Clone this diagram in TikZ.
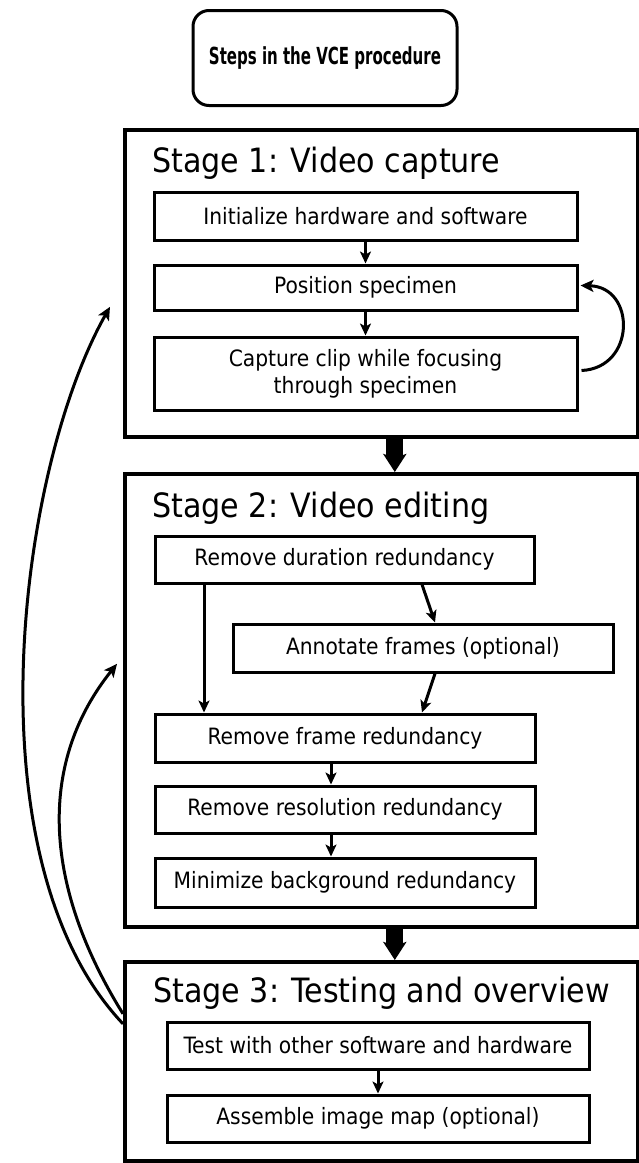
\documentclass[tikz,border=0pt]{standalone}
\usepackage{fontspec}
\setmainfont{DejaVu Sans Condensed}
\usetikzlibrary{arrows.meta}
\begin{document}
\begin{tikzpicture}[x=1pt,y=-1pt,
  headbox/.style={draw, line width=3pt, rounded corners=16pt, inner sep=0pt,
    minimum width=264pt, minimum height=95pt,
    font=\fontsize{23.5}{28}\selectfont\bfseries},
  stagebox/.style={draw, line width=3.6pt, anchor=north west, inner sep=0pt, minimum width=513pt},
  stagetitle/.style={anchor=base west, inner sep=0pt, font=\fontsize{33.5}{40}\selectfont},
  stepbox/.style={draw, line width=3pt, inner sep=0pt, align=center,
    font=\fontsize{22.5}{27}\selectfont},
  link/.style={line width=3pt, -{Stealth[length=12pt,width=11pt,inset=3pt]}},
  backlink/.style={line width=3pt, -{Stealth[length=13pt,width=12pt,inset=3pt]}},
  bigarrow/.style={line width=17pt, -{Stealth[length=18pt,width=23pt,inset=4pt]}},
]
\useasboundingbox[fill=white] (0,0) rectangle (638,1163);

% heading
\node[headbox] (head) at (325,58) {\scalebox{0.71}[1]{Steps in the VCE procedure}};

% stage frames
\node[stagebox, minimum height=307pt] (s1) at (123,128) {};
\node[stagebox, minimum height=453pt] (s2) at (123,472) {};
\node[stagebox, minimum height=199pt] (s3) at (123,960) {};

\node[stagetitle] (t1) at (152,172) {Stage 1: Video capture};
\node[stagetitle] (t2) at (152,517) {Stage 2: Video editing};
\node[stagetitle] (t3) at (153,1002) {Stage 3: Testing and overview};

% stage 1 steps
\node[stepbox, minimum width=423pt, minimum height=48pt] (init) at (365.5,216) {Initialize hardware and software};
\node[stepbox, minimum width=423pt, minimum height=45pt] (pos) at (365.5,287.5) {Position specimen};
\node[stepbox, minimum width=423pt, minimum height=73pt] (cap) at (365.5,373.5) {Capture clip while focusing\\through specimen};

% stage 2 steps
\node[stepbox, minimum width=379pt, minimum height=47pt] (dur) at (344.5,559.5) {Remove duration redundancy};
\node[stepbox, minimum width=380pt, minimum height=48pt] (ann) at (423,648) {Annotate frames (optional)};
\node[stepbox, minimum width=380pt, minimum height=48pt] (frame) at (345,738) {Remove frame redundancy};
\node[stepbox, minimum width=380pt, minimum height=47pt] (res) at (345,809.5) {Remove resolution redundancy};
\node[stepbox, minimum width=380pt, minimum height=49pt] (mini) at (345,882.5) {Minimize background redundancy};

% stage 3 steps
\node[stepbox, minimum width=422pt, minimum height=47pt] (test) at (378,1045.5) {Test with other software and hardware};
\node[stepbox, minimum width=422pt, minimum height=47pt] (asm) at (378,1118.5) {Assemble image map (optional)};

% flow inside stage 1
\draw[link] (init.south) -- (pos.north);
\draw[link] (pos.south) -- (cap.north);
\draw[backlink] ([shift={(3,-3)}]cap.east) .. controls (636,368) and (636,287) .. ([shift={(2,-2)}]pos.east);

% flow inside stage 2
\draw[link] ([xshift=77.5pt]dur.south) -- ([xshift=12pt]ann.north);
\draw[link] ([xshift=12pt]ann.south) -- ([xshift=77pt]frame.north);
\draw[link] ([xshift=-140.5pt]dur.south) -- ([xshift=-141pt]frame.north);
\draw[link] ([xshift=-14pt]frame.south) -- ([xshift=-14pt]res.north);
\draw[link] ([xshift=-14pt]res.south) -- ([xshift=-14pt]mini.north);

% flow inside stage 3
\draw[link] (test.south) -- (asm.north);

% transitions between stages
\draw[bigarrow] ([xshift=13.5pt]s1.south) -- ([xshift=13.5pt]s2.north);
\draw[bigarrow] ([xshift=13.5pt]s2.south) -- ([xshift=13.5pt]s3.north);

% feedback from testing back to earlier stages
\draw[backlink] ([shift={(0,-37.5)}]s3.west) .. controls (-32,860) and (18,470) .. ([shift={(-13,23.5)}]s1.west);
\draw[backlink] ([shift={(0,-47.5)}]s3.west) .. controls (40,880) and (40,760) .. ([shift={(-6,-36.5)}]s2.west);
\end{tikzpicture}
\end{document}
